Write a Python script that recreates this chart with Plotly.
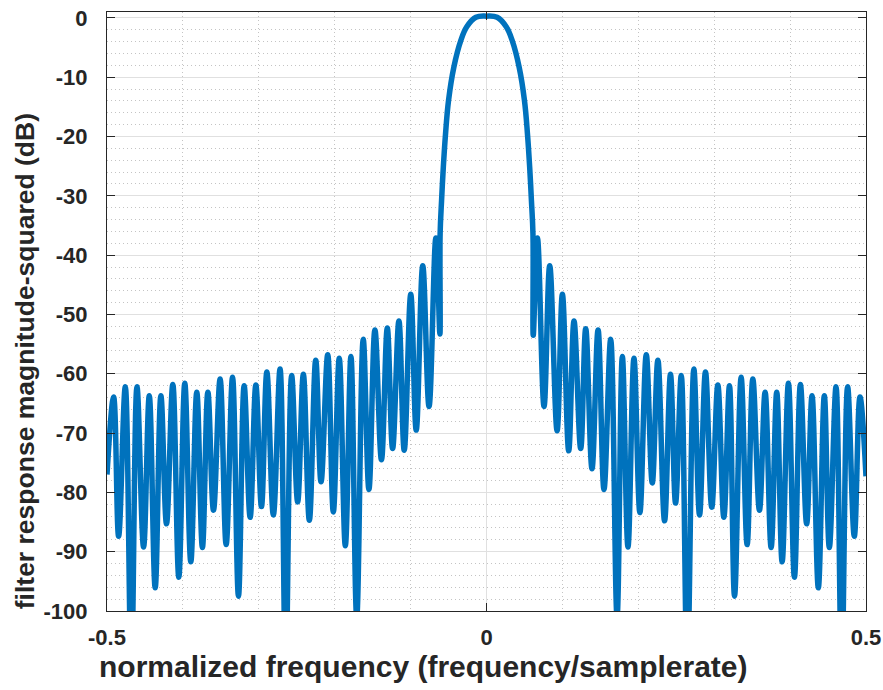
import plotly.graph_objects as go

# ---- data ----
# left side lobes (normalized frequency, dB)
left_edge_x = [-0.5]
left_edge_db = [-77.0]
left_peak_x = [-0.4913, -0.4759, -0.4605, -0.4443, -0.4290, -0.4133, -0.3975, -0.3817,
               -0.3671, -0.3510, -0.3346, -0.3193, -0.3039, -0.2894, -0.2720, -0.2567,
               -0.2413, -0.2250, -0.2092, -0.1940, -0.1786, -0.1624, -0.1470, -0.1307,
               -0.1154, -0.0998, -0.0840, -0.0667]
left_peak_db = [-63.9, -62.2, -62.2, -63.7, -63.7, -61.8, -61.6, -63.1,
                -63.1, -60.9, -60.6, -62.0, -61.9, -59.7, -59.2, -60.3,
                -60.1, -57.7, -56.8, -57.4, -57.1, -54.2, -52.6, -52.3,
                -51.1, -46.6, -41.8, -37.1]
left_null_x = [-0.4847, -0.4680, -0.4518, -0.4365, -0.4216, -0.4054, -0.3896, -0.3743,
               -0.3597, -0.3430, -0.3268, -0.3114, -0.2965, -0.2808, -0.2646, -0.2488,
               -0.2334, -0.2180, -0.2018, -0.1860, -0.1710, -0.1549, -0.1384, -0.1237,
               -0.1084, -0.0926, -0.0757, -0.0614]
left_null_db = [-87.4, -110.0, -89.2, -96.1, -85.3, -94.3, -91.7, -89.3,
                -83.0, -88.8, -97.5, -84.2, -82.4, -83.8, -110.0, -81.6,
                -84.7, -78.2, -83.3, -89.0, -101.0, -79.5, -74.5, -72.6,
                -72.9, -69.5, -65.5, -53.3]

# main lobe (between the two first nulls)
main_x = [-0.0611, -0.0592, -0.0569, -0.0540, -0.0500, -0.0430, -0.0338, -0.0260, -0.0140,
          0.0, 0.0140, 0.0260, 0.0338, 0.0430, 0.0500, 0.0540, 0.0569, 0.0592, 0.0612]
main_db = [-36.4, -30.8, -25.2, -19.6, -13.9, -8.3, -3.8, -1.5, 0.1,
           0.3, 0.1, -1.5, -3.8, -8.3, -13.9, -19.6, -25.2, -30.8, -36.4]

# right side lobes
right_null_x = [0.0616, 0.0758, 0.0930, 0.1083, 0.1241, 0.1390, 0.1548, 0.1720,
                0.1864, 0.2021, 0.2184, 0.2346, 0.2491, 0.2645, 0.2807, 0.2968,
                0.3127, 0.3268, 0.3434, 0.3596, 0.3750, 0.3895, 0.4057, 0.4218,
                0.4372, 0.4517, 0.4679, 0.4846]
right_null_db = [-53.5, -65.5, -69.6, -73.0, -72.6, -76.0, -79.5, -101.0,
                 -89.2, -83.4, -78.4, -84.8, -81.8, -110.0, -83.8, -82.5,
                 -84.2, -97.5, -88.8, -83.0, -89.3, -91.7, -94.3, -85.3,
                 -96.1, -89.3, -110.0, -87.4]
right_peak_x = [0.0671, 0.0833, 0.1000, 0.1153, 0.1307, 0.1470, 0.1636, 0.1790,
                0.1943, 0.2105, 0.2258, 0.2424, 0.2566, 0.2732, 0.2885, 0.3048,
                0.3201, 0.3355, 0.3509, 0.3671, 0.3824, 0.3978, 0.4136, 0.4289,
                0.4451, 0.4605, 0.4758, 0.4921]
right_peak_db = [-37.1, -41.8, -46.6, -51.1, -52.4, -52.6, -54.2, -57.1,
                 -57.4, -56.8, -57.7, -60.1, -60.3, -59.2, -59.7, -61.9,
                 -62.0, -60.6, -60.9, -63.1, -63.1, -61.6, -61.8, -63.7,
                 -63.7, -62.2, -62.2, -63.9]
right_edge_x = [0.5]
right_edge_db = [-77.3]

# axis ticks
y_tickvals = [0, -10, -20, -30, -40, -50, -60, -70, -80, -90, -100]
y_ticktext = ["0", "-10", "-20", "-30", "-40", "-50", "-60", "-70", "-80", "-90", "-100"]
x_tickvals = [-0.5, 0, 0.5]
x_ticktext = ["-0.5", "0", "0.5"]

# ---- build curve ----
pts = []
for xs, ys in [(left_edge_x, left_edge_db), (left_peak_x, left_peak_db), (left_null_x, left_null_db),
               (main_x, main_db), (right_null_x, right_null_db), (right_peak_x, right_peak_db),
               (right_edge_x, right_edge_db)]:
    pts.extend(zip(xs, ys))
pts.sort(key=lambda p: p[0])
cx = [p[0] for p in pts]
cy = [p[1] for p in pts]

TXT = "#262626"
FONT = "Liberation Sans, Arial, sans-serif"

fig = go.Figure()
fig.add_trace(go.Scatter(x=cx, y=cy, mode="lines",
                         line=dict(color="#0072BD", width=5.5, shape="spline", smoothing=1.1),
                         hoverinfo="skip", showlegend=False))

axis_common = dict(showline=True, linecolor=TXT, linewidth=1.3, mirror="ticks",
                   ticks="inside", ticklen=8, tickwidth=1.3, tickcolor=TXT,
                   showgrid=True, gridcolor="#e0e0e0", gridwidth=1, zeroline=False,
                   automargin=False,
                   tickfont=dict(family=FONT, size=22, color=TXT, weight="bold"))

fig.update_xaxes(range=[-0.5, 0.5], tickmode="array", tickvals=x_tickvals, ticktext=x_ticktext,
                 ticklabelstandoff=6,
                 minor=dict(dtick=0.1, tick0=0, showgrid=True, griddash="1px,3px",
                            gridcolor="#c4c4c4", gridwidth=1, ticks=""),
                 **axis_common)
fig.update_yaxes(range=[-100, 1], tickmode="array", tickvals=y_tickvals, ticktext=y_ticktext,
                 ticklabelstandoff=14,
                 minor=dict(dtick=2, tick0=0, showgrid=True, griddash="1px,3px",
                            gridcolor="#c4c4c4", gridwidth=1, ticks=""),
                 **axis_common)

fig.add_annotation(text="normalized frequency (frequency/samplerate)",
                   xref="paper", yref="paper", x=-0.0128, y=-0.092,
                   xanchor="left", yanchor="middle", showarrow=False,
                   font=dict(family=FONT, size=30, color=TXT, weight="bold"))
fig.add_annotation(text="filter response magnitude-squared (dB)",
                   xref="paper", yref="paper", x=-0.108, y=0.417, textangle=-90,
                   xanchor="center", yanchor="middle", showarrow=False,
                   font=dict(family=FONT, size=26.5, color=TXT, weight="bold"))

fig.update_layout(width=883, height=690, margin=dict(l=107, r=17, t=12, b=79),
                  plot_bgcolor="white", paper_bgcolor="white", showlegend=False)

fig.write_html("out.html")
